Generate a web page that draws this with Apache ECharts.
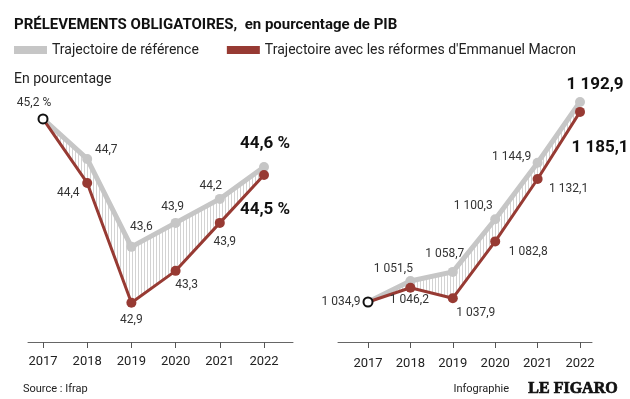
<!DOCTYPE html>
<html><head><meta charset="utf-8">
<script src="https://cdn.jsdelivr.net/npm/echarts@6/dist/echarts.min.js"></script>
<style>html,body{margin:0;padding:0;background:#fff}#c{width:630px;height:399px}</style>
</head><body><div id="c"></div>
<script>
const years = ['2017','2018','2019','2020','2021','2022'];
const refPct = [45.2,44.7,43.6,43.9,44.2,44.6];
const macronPct = [45.2,44.4,42.9,43.3,43.9,44.5];
const refBn = [1034.9,1051.5,1058.7,1100.3,1144.9,1192.9];
const macronBn = [1034.9,1046.2,1037.9,1082.8,1132.1,1185.1];
const refName = 'Trajectoire de référence';
const macName = "Trajectoire avec les réformes d'Emmanuel Macron";

// label placement (style config)
const pctRefOff = [[-9,-16],[19,-9],[10,-20],[-3,-16],[-9,-13],[1,-23]];
const pctMacOff = [null,[-19,10],[0,17],[11,14],[5,19],[1,35]];
const bnRefOff = [[-27,0],[-17,-12],[-8,-18],[-22,-13],[-26,-6],[15,-17]];
const bnMacOff = [null,[-1,12],[23,15],[33,11],[31,10],[20,36]];

const GRAY = '#c6c6c6', RED = '#973a33', FONT = 'Roboto';

function fmtPct(v){ return v.toFixed(1).replace('.', ','); }
function fmtBn(v){
  const s = v.toFixed(1).split('.');
  const i = s[0].replace(/\B(?=(\d{3})+(?!\d))/g, ' ');
  return i + ',' + s[1];
}

const pat = document.createElement('canvas');
pat.width = 3; pat.height = 4;
const pctx = pat.getContext('2d');
pctx.fillStyle = 'rgba(150,150,150,0.42)';
pctx.fillRect(0,0,1,4);

function buildItems(vals, offs, fmt, lastPct){
  return vals.map((v,i)=>{
    const last = i === vals.length-1;
    const item = { value: v };
    if (!offs[i]) { item.label = {show:false}; item.symbol = 'none'; return item; }
    let txt = fmt(v);
    if ((i === 0 || last) && lastPct) txt += ' %';
    item.label = {
      show: true, position: 'inside', offset: offs[i], formatter: txt,
      fontFamily: FONT, fontSize: last ? 17 : 12, fontWeight: last ? 'bold' : 'normal',
      color: last ? '#111' : '#333'
    };
    return item;
  });
}

function seriesFor(gi, refV, macV, refOff, macOff, fmt, pct){
  const stack = 'band' + gi;
  return [
    { type:'line', xAxisIndex:gi, yAxisIndex:gi, stack, data: macV.slice(), symbol:'none',
      lineStyle:{width:0, opacity:0}, silent:true, z:1 },
    { type:'line', xAxisIndex:gi, yAxisIndex:gi, stack, data: refV.map((v,i)=>+(v - macV[i]).toFixed(2)),
      symbol:'none', lineStyle:{width:0, opacity:0}, areaStyle:{color:{image:pat, repetition:'repeat'}, opacity:1},
      silent:true, z:1 },
    { type:'line', name: refName, xAxisIndex:gi, yAxisIndex:gi, data: buildItems(refV, refOff, fmt, pct),
      symbol:'circle', symbolSize:10, showAllSymbol:true, color: GRAY,
      lineStyle:{width:5, color:GRAY}, itemStyle:{color:GRAY}, z:2 },
    { type:'line', name: macName, xAxisIndex:gi, yAxisIndex:gi, data: buildItems(macV, macOff, fmt, pct),
      symbol:'circle', symbolSize:10, showAllSymbol:true, color: RED,
      lineStyle:{width:3, color:RED}, itemStyle:{color:RED}, z:3 },
    { type:'line', xAxisIndex:gi, yAxisIndex:gi, data: refV.map((v,i)=> i===0 ? v : '-'),
      symbol:'circle', symbolSize:9, showAllSymbol:true,
      itemStyle:{color:'#fff', borderColor:'#111', borderWidth:2}, lineStyle:{width:0}, z:4 }
  ];
}

const chart = echarts.init(document.getElementById('c'), null, {renderer:'canvas'});
const dataX = (gi, margin) => ({
  type:'category', gridIndex:gi, data: years, boundaryGap:false,
  axisLine:{show:false}, axisTick:{show:true, length:6, alignWithLabel:true, lineStyle:{color:'#555', width:1}},
  axisLabel:{fontFamily:FONT, fontSize:13, color:'#222', margin: margin}, splitLine:{show:false}
});
const lineX = (gi) => ({
  type:'value', gridIndex:gi, min:0, max:1,
  axisLine:{show:true, lineStyle:{color:'#666', width:1}}, axisTick:{show:false}, axisLabel:{show:false}, splitLine:{show:false}
});
const hidY = (gi, min, max) => ({ type:'value', gridIndex:gi, min, max, show:false, splitLine:{show:false} });

chart.setOption({
  animation:false,
  backgroundColor:'#fff',
  title:{ text:'PRÉLEVEMENTS OBLIGATOIRES,  en pourcentage de PIB', left:14, top:18, padding:0,
    textStyle:{fontFamily:FONT, fontSize:15, fontWeight:'bold', color:'#111'} },
  legend:{ data:[refName, macName], left:14, top:43, padding:0, itemGap:28, itemWidth:33, itemHeight:8,
    icon:'rect', textStyle:{fontFamily:FONT, fontSize:14, color:'#222'}, selectedMode:false },
  grid:[
    {left:43, right:366, top:79, bottom:57},
    {left:368, right:50, top:79, bottom:57},
    {left:28, right:337, top:79, bottom:57},
    {left:338, right:38, top:79, bottom:57}
  ],
  xAxis:[ dataX(0, 13), dataX(1, 15), lineX(2), lineX(3) ],
  yAxis:[ hidY(0, 42.41, 45.7), hidY(1, 1003.3, 1211.1), hidY(2,0,1), hidY(3,0,1) ],
  graphic:[
    {type:'text', left:14, top:72, style:{text:'En pourcentage', fontFamily:FONT, fontSize:14, fill:'#222'}},
    {type:'text', left:23, top:384, style:{text:'Source : Ifrap', fontFamily:FONT, fontSize:11, fill:'#222'}},
    {type:'text', right:121, top:384, style:{text:'Infographie', fontFamily:FONT, fontSize:11, fill:'#222'}},
    {type:'text', right:12, top:381, style:{text:'LE FIGARO', fontFamily:'Liberation Serif', fontSize:16, fontWeight:'bold', fill:'#111', stroke:'#111', lineWidth:0.7}}
  ],
  series:[
    ...seriesFor(0, refPct, macronPct, pctRefOff, pctMacOff, fmtPct, true),
    ...seriesFor(1, refBn, macronBn, bnRefOff, bnMacOff, fmtBn, false)
  ]
});
</script></body></html>
